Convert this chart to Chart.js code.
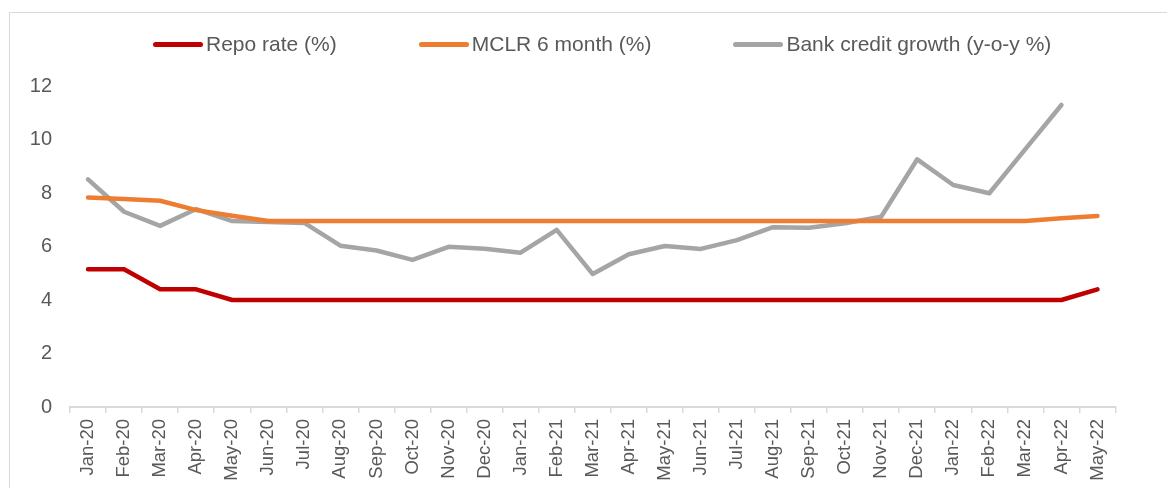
<!DOCTYPE html>
<html>
<head>
<meta charset="utf-8">
<script src="https://cdn.jsdelivr.net/npm/chart.js@4.4.1/dist/chart.umd.min.js"></script>
<style>
  html, body { margin: 0; padding: 0; background: #ffffff; overflow: hidden; }
  body { width: 1167px; height: 488px; position: relative; font-family: "Liberation Sans", Arial, sans-serif; }
  #frame { position: absolute; left: 9px; top: 12px; width: 1200px; height: 520px; border: 1px solid #d9d9d9; box-sizing: border-box; }
  #wrap { position: absolute; left: 0; top: 0; width: 1167px; height: 488px; }
  #legend { position: absolute; left: 0; top: 32px; width: 1200px; height: 24px; display: flex; justify-content: flex-start; align-items: center; padding-left: 153px; box-sizing: border-box; gap: 82px; }
  .item { display: flex; align-items: center; white-space: nowrap; }
  .swatch { width: 50px; height: 5px; border-radius: 3px; margin-right: 3px; }
  .txt { font-size: 21px; color: #595959; line-height: 24px; }
</style>
</head>
<body>
<div id="frame"></div>
<div id="wrap"><canvas id="c" width="1167" height="488"></canvas></div>
<div id="legend"></div>
<script>
const categories = ["Jan-20","Feb-20","Mar-20","Apr-20","May-20","Jun-20","Jul-20","Aug-20","Sep-20","Oct-20","Nov-20","Dec-20",
  "Jan-21","Feb-21","Mar-21","Apr-21","May-21","Jun-21","Jul-21","Aug-21","Sep-21","Oct-21","Nov-21","Dec-21",
  "Jan-22","Feb-22","Mar-22","Apr-22","May-22"];
const seriesNames = ["Repo rate (%)", "MCLR 6 month (%)", "Bank credit growth (y-o-y %)"];
const repoRate = [5.15,5.15,4.4,4.4,4.0,4.0,4.0,4.0,4.0,4.0,4.0,4.0,4.0,4.0,4.0,4.0,4.0,4.0,4.0,4.0,4.0,4.0,4.0,4.0,4.0,4.0,4.0,4.0,4.4];
const mclr6m = [7.83,7.78,7.71,7.36,7.15,6.95,6.95,6.95,6.95,6.95,6.95,6.95,6.95,6.95,6.95,6.95,6.95,6.95,6.95,6.95,6.95,6.95,6.95,6.95,6.95,6.95,6.95,7.06,7.14];
const bankCredit = [8.51,7.30,6.77,7.40,6.95,6.92,6.88,6.03,5.85,5.50,5.99,5.92,5.77,6.62,4.97,5.71,6.02,5.91,6.24,6.72,6.70,6.87,7.11,9.26,8.30,7.99,9.64,11.29,null];
const yTicks = [0,2,4,6,8,10,12];
const colors = ["#c00000", "#ed7d31", "#a5a5a5"];

const seriesData = [repoRate, mclr6m, bankCredit];
const datasets = seriesData.map((d, i) => ({
  label: seriesNames[i],
  data: d,
  borderColor: colors[i],
  backgroundColor: colors[i],
  borderWidth: 4.5,
  pointRadius: 0,
  pointHoverRadius: 0,
  tension: 0,
  fill: false,
  borderCapStyle: 'round',
  borderJoinStyle: 'round',
  spanGaps: false
}));

// HTML legend built from the series names/colors
const legend = document.getElementById('legend');
seriesNames.forEach((name, i) => {
  const it = document.createElement('div'); it.className = 'item';
  const sw = document.createElement('span'); sw.className = 'swatch'; sw.style.background = colors[i];
  const tx = document.createElement('span'); tx.className = 'txt'; tx.textContent = name;
  it.appendChild(sw); it.appendChild(tx); legend.appendChild(it);
});

new Chart(document.getElementById('c'), {
  type: 'line',
  data: { labels: categories, datasets },
  options: {
    responsive: false,
    animation: false,
    devicePixelRatio: 1,
    layout: { padding: { left: 0, right: 51.5, top: 86, bottom: 0 } },
    plugins: { legend: { display: false }, tooltip: { enabled: false } },
    scales: {
      x: {
        type: 'category',
        offset: true,
        grid: { display: true, offset: true, drawOnChartArea: false, drawTicks: true, tickLength: 6, color: '#d9d9d9', lineWidth: 1.5 },
        border: { display: true, color: '#d9d9d9', width: 2 },
        ticks: {
          autoSkip: false, minRotation: 90, maxRotation: 90, padding: 6,
          color: '#595959', font: { family: '"Liberation Sans", Arial, sans-serif', size: 18.5 }
        },
        afterFit: (s) => { s.height = 81; }
      },
      y: {
        min: 0, max: 12,
        afterBuildTicks: (s) => { s.ticks = yTicks.map(v => ({ value: v })); },
        grid: { display: false, drawTicks: false },
        border: { display: false },
        ticks: { padding: 18, color: '#595959', font: { family: '"Liberation Sans", Arial, sans-serif', size: 20 } },
        afterFit: (s) => { s.width = 70; }
      }
    }
  }
});
</script>
</body>
</html>
